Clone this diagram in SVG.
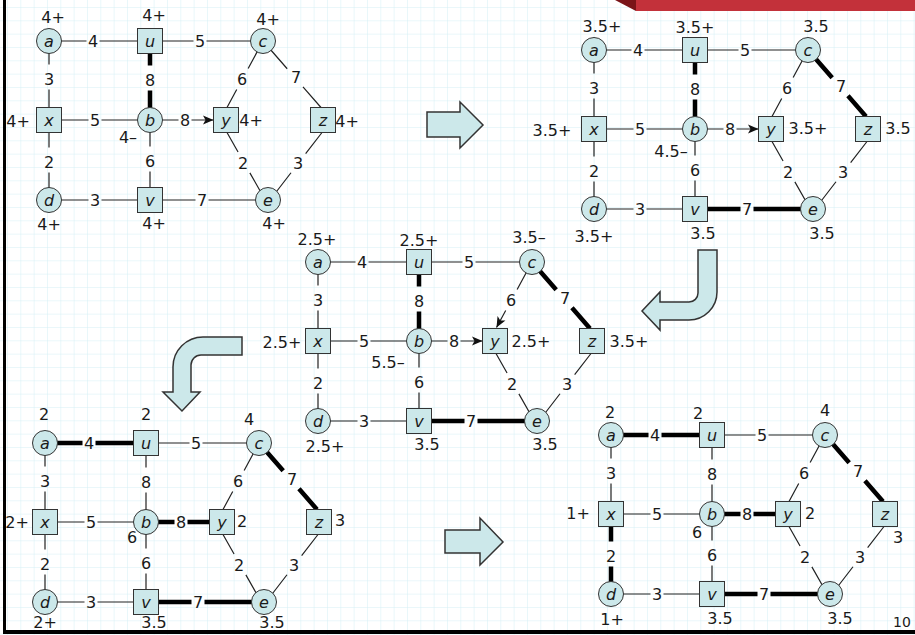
<svg xmlns="http://www.w3.org/2000/svg" width="915" height="635" viewBox="0 0 915 635">
<defs>
<pattern id="grid" x="7" y="7" width="13.333" height="13.333" patternUnits="userSpaceOnUse">
<path d="M0,0 H13.333 M0,0 V13.333" fill="none" stroke="#d4eff5" stroke-width="1"/>
</pattern>
<marker id="ah" markerUnits="userSpaceOnUse" markerWidth="12" markerHeight="10" viewBox="0 -5 11 10" refX="10.5" refY="0" orient="auto">
<path d="M0,-4.5 L10.5,0 L0,4.5 L2.5,0 Z" fill="#111"/>
</marker>
</defs>
<style>
.e{fill:none;stroke:#222;stroke-width:1.2}
.bd{stroke:#000;stroke-width:4.5}
.n{fill:#cce8ea;stroke:#333;stroke-width:1}
.big{fill:#cce8ea;stroke:#333;stroke-width:1.5;stroke-linejoin:miter}
.t{font-family:"DejaVu Sans",Verdana,sans-serif;font-size:16px;fill:#1a1a1a;text-anchor:middle}
.nl{font-style:italic}
.au{stroke-dasharray:37.5 13 300}
.uc{stroke-dasharray:43.5 13 300}
.ax{stroke-dasharray:23.5 25 300}
.ub{stroke-dasharray:24.5 25 300}
.cy{stroke-dasharray:31.2 24 300}
.cz{stroke-dasharray:36.8 24 300}
.xb{stroke-dasharray:39.5 13 300}
.by{stroke-dasharray:28.5 13 300}
.xd{stroke-dasharray:27.5 25 300}
.bv{stroke-dasharray:26.5 25 300}
.ye{stroke-dasharray:22.4 24 300}
.ze{stroke-dasharray:26.8 24 300}
.dv{stroke-dasharray:39.5 13 300}
.ve{stroke-dasharray:45.5 13 300}
</style>
<rect x="0" y="0" width="915" height="635" fill="#fff"/>
<rect x="0" y="0" width="915" height="635" fill="url(#grid)"/>
<g id="frame">
<polygon points="615,0 636,0 636,11" fill="#7a1418"/>
<rect x="636" y="0" width="279" height="11" fill="#c3313a"/>
<rect x="3" y="0" width="3" height="634" fill="#000"/>
<rect x="3" y="630" width="912" height="4" fill="#000"/>
</g>
<g id="step-arrows">
<polygon class="big" points="427,112 460,112 460,102 483,125 460,148 460,137 427,137"/>
<path class="big" d="M698,250 L717,250 L717,292 A28,28 0 0 1 689,320 L660,320 L660,330 L642,311 L660,292 L660,302 L689,302 A9,9 0 0 0 698,293 Z"/>
<path class="big" d="M242,337 L242,355 L201,355 A10,10 0 0 0 191,365 L191,392 L200,392 L182,411 L163,392 L173,392 L173,367 A30,30 0 0 1 203,337 Z"/>
<polygon class="big" points="445,530 480,530 480,518 503,542 480,565 480,553 445,553"/>
</g>

<!-- Graph 1 -->
<g id="graph1">
<g id="g1-edges">
<path class="e au" d="M49,41 H150"/>
<path class="e uc" d="M150,41 H263"/>
<path class="e ax" d="M49,41 V120"/>
<path class="e ub bd" d="M150,41 V120"/>
<path class="e cy" d="M263,41 L227,107.5"/>
<path class="e cz" d="M263,41 L321,107.5"/>
<path class="e xb" d="M49,120 H150"/>
<path class="e by" d="M150,120 H213.5" marker-end="url(#ah)"/>
<path class="e xd" d="M49,120 V200"/>
<path class="e bv" d="M150,120 V200"/>
<path class="e ye" d="M227,132.5 L263,196"/>
<path class="e ze" d="M322,132.5 L270,200"/>
<path class="e dv" d="M49,200 H150"/>
<path class="e ve" d="M150,200 H268"/>
<g class="t">
<text x="93" y="47">4</text><text x="200" y="47">5</text><text x="49" y="85">3</text><text x="150" y="86">8</text>
<text x="242" y="85">6</text><text x="296" y="83">7</text><text x="95" y="126">5</text><text x="185" y="126">8</text>
<text x="49" y="168">2</text><text x="150" y="167">6</text><text x="243" y="169">2</text><text x="298" y="169">3</text>
<text x="95" y="206">3</text><text x="202" y="206">7</text>
</g>
</g>
<g id="g1-a"><circle class="n" cx="49" cy="41" r="12.5"/><text class="t nl" x="49" y="46.5">a</text><text class="t" x="53" y="23">4+</text></g>
<g id="g1-u"><rect class="n" x="137.5" y="28.5" width="25" height="25"/><text class="t nl" x="150" y="46.5">u</text><text class="t" x="154" y="21">4+</text></g>
<g id="g1-c"><circle class="n" cx="263" cy="41" r="12.5"/><text class="t nl" x="263" y="46.5">c</text><text class="t" x="268" y="25">4+</text></g>
<g id="g1-x"><rect class="n" x="36.5" y="107.5" width="25" height="25"/><text class="t nl" x="49" y="125.5">x</text><text class="t" x="18" y="127">4+</text></g>
<g id="g1-b"><circle class="n" cx="150" cy="120" r="12.5"/><text class="t nl" x="150" y="125.5">b</text><text class="t" x="128" y="143">4–</text></g>
<g id="g1-y"><rect class="n" x="213.5" y="107.5" width="25" height="25"/><text class="t nl" x="226" y="125.5">y</text><text class="t" x="251" y="126">4+</text></g>
<g id="g1-z"><rect class="n" x="310.5" y="107.5" width="25" height="25"/><text class="t nl" x="323" y="125.5">z</text><text class="t" x="347" y="127">4+</text></g>
<g id="g1-d"><circle class="n" cx="49" cy="200" r="12.5"/><text class="t nl" x="49" y="205.5">d</text><text class="t" x="49" y="230">4+</text></g>
<g id="g1-v"><rect class="n" x="137.5" y="187.5" width="25" height="25"/><text class="t nl" x="150" y="205.5">v</text><text class="t" x="154" y="229">4+</text></g>
<g id="g1-e"><circle class="n" cx="268" cy="200" r="12.5"/><text class="t nl" x="268" y="205.5">e</text><text class="t" x="274" y="229">4+</text></g>
</g>

<!-- Graph 2 -->
<g id="graph2" transform="translate(545,9)">
<g id="g2-edges">
<path class="e au" d="M49,41 H150"/>
<path class="e uc" d="M150,41 H263"/>
<path class="e ax" d="M49,41 V120"/>
<path class="e ub bd" d="M150,41 V120"/>
<path class="e cy" d="M263,41 L227,107.5"/>
<path class="e cz bd" d="M263,41 L321,107.5"/>
<path class="e xb" d="M49,120 H150"/>
<path class="e by" d="M150,120 H213.5" marker-end="url(#ah)"/>
<path class="e xd" d="M49,120 V200"/>
<path class="e bv" d="M150,120 V200"/>
<path class="e ye" d="M227,132.5 L263,196"/>
<path class="e ze" d="M322,132.5 L270,200"/>
<path class="e dv" d="M49,200 H150"/>
<path class="e ve bd" d="M150,200 H268"/>
<g class="t">
<text x="93" y="47">4</text><text x="200" y="47">5</text><text x="49" y="85">3</text><text x="150" y="86">8</text>
<text x="242" y="85">6</text><text x="296" y="83">7</text><text x="95" y="126">5</text><text x="185" y="126">8</text>
<text x="49" y="168">2</text><text x="150" y="167">6</text><text x="243" y="169">2</text><text x="298" y="169">3</text>
<text x="95" y="206">3</text><text x="202" y="206">7</text>
</g>
</g>
<g id="g2-a"><circle class="n" cx="49" cy="41" r="12.5"/><text class="t nl" x="49" y="46.5">a</text><text class="t" x="57" y="23">3.5+</text></g>
<g id="g2-u"><rect class="n" x="137.5" y="28.5" width="25" height="25"/><text class="t nl" x="150" y="46.5">u</text><text class="t" x="150" y="24">3.5+</text></g>
<g id="g2-c"><circle class="n" cx="263" cy="41" r="12.5"/><text class="t nl" x="263" y="46.5">c</text><text class="t" x="271" y="23">3.5</text></g>
<g id="g2-x"><rect class="n" x="36.5" y="107.5" width="25" height="25"/><text class="t nl" x="49" y="125.5">x</text><text class="t" x="7" y="127">3.5+</text></g>
<g id="g2-b"><circle class="n" cx="150" cy="120" r="12.5"/><text class="t nl" x="150" y="125.5">b</text><text class="t" x="126" y="148">4.5–</text></g>
<g id="g2-y"><rect class="n" x="213.5" y="107.5" width="25" height="25"/><text class="t nl" x="226" y="125.5">y</text><text class="t" x="263" y="125">3.5+</text></g>
<g id="g2-z"><rect class="n" x="310.5" y="107.5" width="25" height="25"/><text class="t nl" x="323" y="125.5">z</text><text class="t" x="353" y="125">3.5</text></g>
<g id="g2-d"><circle class="n" cx="49" cy="200" r="12.5"/><text class="t nl" x="49" y="205.5">d</text><text class="t" x="49" y="233">3.5+</text></g>
<g id="g2-v"><rect class="n" x="137.5" y="187.5" width="25" height="25"/><text class="t nl" x="150" y="205.5">v</text><text class="t" x="158" y="230">3.5</text></g>
<g id="g2-e"><circle class="n" cx="268" cy="200" r="12.5"/><text class="t nl" x="268" y="205.5">e</text><text class="t" x="277" y="230">3.5</text></g>
</g>

<!-- Graph 3 -->
<g id="graph3" transform="translate(269,221)">
<g id="g3-edges">
<path class="e au" d="M49,41 H150"/>
<path class="e uc" d="M150,41 H263"/>
<path class="e ax" d="M49,41 V120"/>
<path class="e ub bd" d="M150,41 V120"/>
<path class="e cy" d="M263,41 L227.5,106.5" marker-end="url(#ah)"/>
<path class="e cz bd" d="M263,41 L321,107.5"/>
<path class="e xb" d="M49,120 H150"/>
<path class="e by" d="M150,120 H213.5" marker-end="url(#ah)"/>
<path class="e xd" d="M49,120 V200"/>
<path class="e bv" d="M150,120 V200"/>
<path class="e ye" d="M227,132.5 L263,196"/>
<path class="e ze" d="M322,132.5 L270,200"/>
<path class="e dv" d="M49,200 H150"/>
<path class="e ve bd" d="M150,200 H268"/>
<g class="t">
<text x="93" y="47">4</text><text x="200" y="47">5</text><text x="49" y="85">3</text><text x="150" y="86">8</text>
<text x="242" y="85">6</text><text x="296" y="83">7</text><text x="95" y="126">5</text><text x="185" y="126">8</text>
<text x="49" y="168">2</text><text x="150" y="167">6</text><text x="243" y="169">2</text><text x="298" y="169">3</text>
<text x="95" y="206">3</text><text x="202" y="206">7</text>
</g>
</g>
<g id="g3-a"><circle class="n" cx="49" cy="41" r="12.5"/><text class="t nl" x="49" y="46.5">a</text><text class="t" x="48" y="24">2.5+</text></g>
<g id="g3-u"><rect class="n" x="137.5" y="28.5" width="25" height="25"/><text class="t nl" x="150" y="46.5">u</text><text class="t" x="150" y="25">2.5+</text></g>
<g id="g3-c"><circle class="n" cx="263" cy="41" r="12.5"/><text class="t nl" x="263" y="46.5">c</text><text class="t" x="260" y="22">3.5–</text></g>
<g id="g3-x"><rect class="n" x="36.5" y="107.5" width="25" height="25"/><text class="t nl" x="49" y="125.5">x</text><text class="t" x="13" y="127">2.5+</text></g>
<g id="g3-b"><circle class="n" cx="150" cy="120" r="12.5"/><text class="t nl" x="150" y="125.5">b</text><text class="t" x="119" y="147">5.5–</text></g>
<g id="g3-y"><rect class="n" x="213.5" y="107.5" width="25" height="25"/><text class="t nl" x="226" y="125.5">y</text><text class="t" x="262" y="126">2.5+</text></g>
<g id="g3-z"><rect class="n" x="310.5" y="107.5" width="25" height="25"/><text class="t nl" x="323" y="125.5">z</text><text class="t" x="360" y="126">3.5+</text></g>
<g id="g3-d"><circle class="n" cx="49" cy="200" r="12.5"/><text class="t nl" x="49" y="205.5">d</text><text class="t" x="56" y="231">2.5+</text></g>
<g id="g3-v"><rect class="n" x="137.5" y="187.5" width="25" height="25"/><text class="t nl" x="150" y="205.5">v</text><text class="t" x="158" y="229">3.5</text></g>
<g id="g3-e"><circle class="n" cx="268" cy="200" r="12.5"/><text class="t nl" x="268" y="205.5">e</text><text class="t" x="276" y="229">3.5</text></g>
</g>

<!-- Graph 4 -->
<g id="graph4" transform="translate(-4,402)">
<g id="g4-edges">
<path class="e au bd" d="M49,41 H150"/>
<path class="e uc" d="M150,41 H263"/>
<path class="e ax" d="M49,41 V120"/>
<path class="e ub" d="M150,41 V120"/>
<path class="e cy" d="M263,41 L227,107.5"/>
<path class="e cz bd" d="M263,41 L321,107.5"/>
<path class="e xb" d="M49,120 H150"/>
<path class="e by bd" d="M150,120 H226"/>
<path class="e xd" d="M49,120 V200"/>
<path class="e bv" d="M150,120 V200"/>
<path class="e ye" d="M227,132.5 L263,196"/>
<path class="e ze" d="M322,132.5 L270,200"/>
<path class="e dv" d="M49,200 H150"/>
<path class="e ve bd" d="M150,200 H268"/>
<g class="t">
<text x="93" y="47">4</text><text x="200" y="47">5</text><text x="49" y="85">3</text><text x="150" y="86">8</text>
<text x="242" y="85">6</text><text x="296" y="83">7</text><text x="95" y="126">5</text><text x="185" y="126">8</text>
<text x="49" y="168">2</text><text x="150" y="167">6</text><text x="243" y="169">2</text><text x="298" y="169">3</text>
<text x="95" y="206">3</text><text x="202" y="206">7</text>
</g>
</g>
<g id="g4-a"><circle class="n" cx="49" cy="41" r="12.5"/><text class="t nl" x="49" y="46.5">a</text><text class="t" x="48" y="18">2</text></g>
<g id="g4-u"><rect class="n" x="137.5" y="28.5" width="25" height="25"/><text class="t nl" x="150" y="46.5">u</text><text class="t" x="150" y="18">2</text></g>
<g id="g4-c"><circle class="n" cx="263" cy="41" r="12.5"/><text class="t nl" x="263" y="46.5">c</text><text class="t" x="253" y="23">4</text></g>
<g id="g4-x"><rect class="n" x="36.5" y="107.5" width="25" height="25"/><text class="t nl" x="49" y="125.5">x</text><text class="t" x="21" y="126">2+</text></g>
<g id="g4-b"><circle class="n" cx="150" cy="120" r="12.5"/><text class="t nl" x="150" y="125.5">b</text><text class="t" x="136" y="141">6</text></g>
<g id="g4-y"><rect class="n" x="213.5" y="107.5" width="25" height="25"/><text class="t nl" x="226" y="125.5">y</text><text class="t" x="246" y="125">2</text></g>
<g id="g4-z"><rect class="n" x="310.5" y="107.5" width="25" height="25"/><text class="t nl" x="323" y="125.5">z</text><text class="t" x="344" y="124">3</text></g>
<g id="g4-d"><circle class="n" cx="49" cy="200" r="12.5"/><text class="t nl" x="49" y="205.5">d</text><text class="t" x="49" y="226">2+</text></g>
<g id="g4-v"><rect class="n" x="137.5" y="187.5" width="25" height="25"/><text class="t nl" x="150" y="205.5">v</text><text class="t" x="158" y="225.5">3.5</text></g>
<g id="g4-e"><circle class="n" cx="268" cy="200" r="12.5"/><text class="t nl" x="268" y="205.5">e</text><text class="t" x="276" y="225.5">3.5</text></g>
</g>

<!-- Graph 5 -->
<g id="graph5" transform="translate(562,394)">
<g id="g5-edges">
<path class="e au bd" d="M49,41 H150"/>
<path class="e uc" d="M150,41 H263"/>
<path class="e ax" d="M49,41 V120"/>
<path class="e ub" d="M150,41 V120"/>
<path class="e cy" d="M263,41 L227,107.5"/>
<path class="e cz bd" d="M263,41 L321,107.5"/>
<path class="e xb" d="M49,120 H150"/>
<path class="e by bd" d="M150,120 H226"/>
<path class="e xd bd" d="M49,120 V200"/>
<path class="e bv" d="M150,120 V200"/>
<path class="e ye" d="M227,132.5 L263,196"/>
<path class="e ze" d="M322,132.5 L270,200"/>
<path class="e dv" d="M49,200 H150"/>
<path class="e ve bd" d="M150,200 H268"/>
<g class="t">
<text x="93" y="47">4</text><text x="200" y="47">5</text><text x="49" y="85">3</text><text x="150" y="86">8</text>
<text x="242" y="85">6</text><text x="296" y="83">7</text><text x="95" y="126">5</text><text x="185" y="126">8</text>
<text x="49" y="168">2</text><text x="150" y="167">6</text><text x="243" y="169">2</text><text x="298" y="169">3</text>
<text x="95" y="206">3</text><text x="202" y="206">7</text>
</g>
</g>
<g id="g5-a"><circle class="n" cx="49" cy="41" r="12.5"/><text class="t nl" x="49" y="46.5">a</text><text class="t" x="48" y="24">2</text></g>
<g id="g5-u"><rect class="n" x="137.5" y="28.5" width="25" height="25"/><text class="t nl" x="150" y="46.5">u</text><text class="t" x="136" y="25">2</text></g>
<g id="g5-c"><circle class="n" cx="263" cy="41" r="12.5"/><text class="t nl" x="263" y="46.5">c</text><text class="t" x="263" y="22">4</text></g>
<g id="g5-x"><rect class="n" x="36.5" y="107.5" width="25" height="25"/><text class="t nl" x="49" y="125.5">x</text><text class="t" x="16" y="125">1+</text></g>
<g id="g5-b"><circle class="n" cx="150" cy="120" r="12.5"/><text class="t nl" x="150" y="125.5">b</text><text class="t" x="135" y="144">6</text></g>
<g id="g5-y"><rect class="n" x="213.5" y="107.5" width="25" height="25"/><text class="t nl" x="226" y="125.5">y</text><text class="t" x="248" y="125">2</text></g>
<g id="g5-z"><rect class="n" x="310.5" y="107.5" width="25" height="25"/><text class="t nl" x="323" y="125.5">z</text><text class="t" x="336" y="149">3</text></g>
<g id="g5-d"><circle class="n" cx="49" cy="200" r="12.5"/><text class="t nl" x="49" y="205.5">d</text><text class="t" x="50" y="231">1+</text></g>
<g id="g5-v"><rect class="n" x="137.5" y="187.5" width="25" height="25"/><text class="t nl" x="150" y="205.5">v</text><text class="t" x="158" y="230">3.5</text></g>
<g id="g5-e"><circle class="n" cx="268" cy="200" r="12.5"/><text class="t nl" x="268" y="205.5">e</text><text class="t" x="278" y="230">3.5</text></g>
</g>

<text x="902" y="627" font-family="DejaVu Sans, Verdana, sans-serif" font-size="14" fill="#1a1a1a" text-anchor="middle">10</text>
</svg>
